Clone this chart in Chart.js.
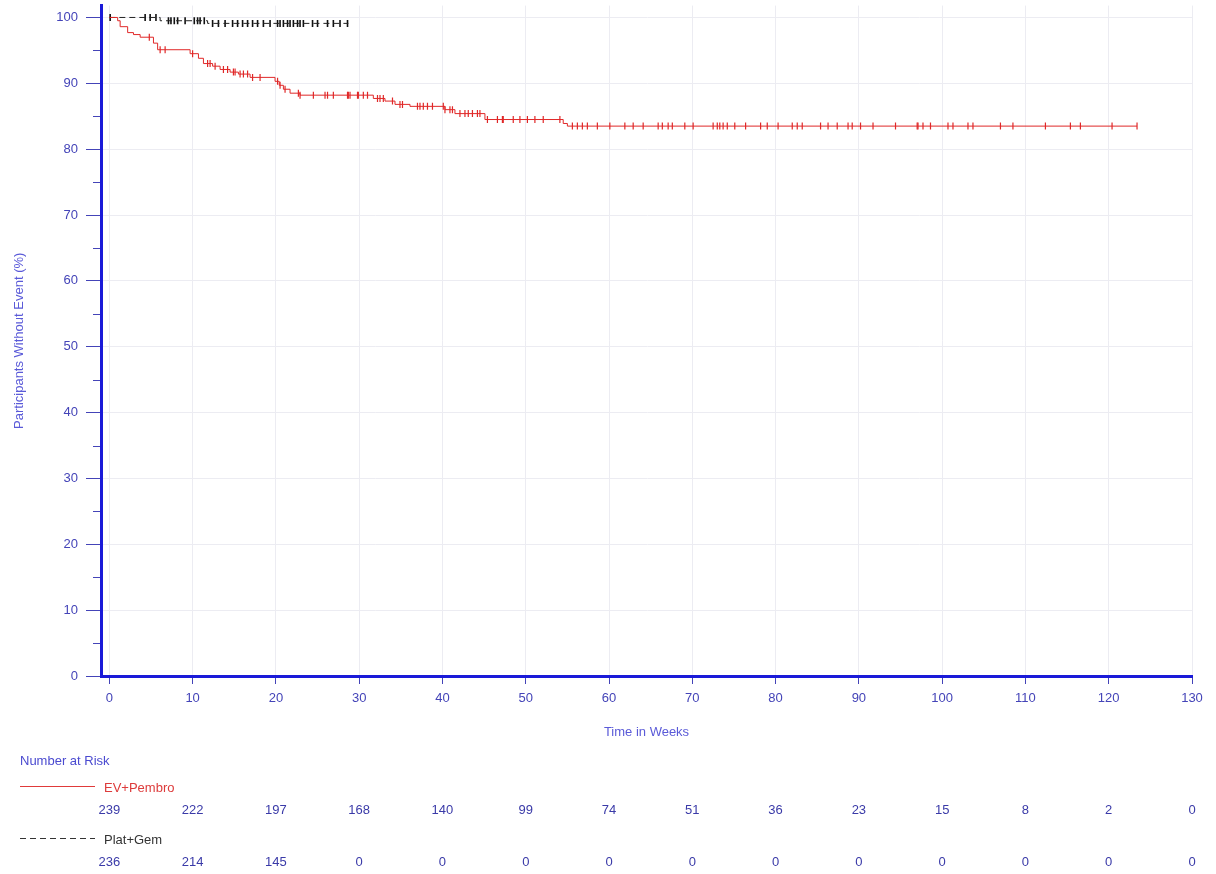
<!DOCTYPE html>
<html>
<head>
<meta charset="utf-8">
<script src="https://cdn.jsdelivr.net/npm/chart.js@4/dist/chart.umd.min.js"></script>
<style>
  html, body { margin: 0; padding: 0; background: #fff; }
  #wrap { width: 1216px; height: 874px; }
</style>
</head>
<body>
<div id="wrap"><canvas id="km"></canvas></div>
<script>
// step points: [time in weeks, % without event]
var evSteps = [
  [0, 100], [1.0, 99.5], [1.3, 98.6], [2.2, 97.7], [2.9, 97.4], [3.7, 97.0],
  [5.3, 96.1], [5.8, 95.1], [9.7, 94.5], [10.7, 93.8], [11.3, 93.0], [12.4, 92.6],
  [13.3, 92.1], [14.5, 91.7], [15.5, 91.4], [16.9, 90.9], [19.9, 90.3], [20.4, 89.7],
  [20.9, 89.1], [21.7, 88.5], [22.9, 88.2], [31.7, 87.7], [33.1, 87.3], [34.3, 86.8],
  [36.1, 86.5], [40.3, 86.0], [41.5, 85.4], [45.1, 84.5], [54.5, 83.9], [55.0, 83.5],
  [123.4, 83.5]
];
var pgSteps = [
  [0, 100], [6.1, 99.5], [11.8, 99.1], [28.7, 99.1]
];

// censored times (weeks)
var evCensored = [
  4.8, 6.1, 6.7, 10.0, 11.8, 12.1, 12.7, 13.7, 14.2, 14.9, 15.1, 15.7, 16.1, 16.6,
  17.2, 18.1, 20.2, 20.5, 21.1, 22.7, 22.9, 24.5, 25.9, 26.2, 26.9, 28.6, 28.7, 28.9,
  29.8, 29.9, 30.5, 31.0, 32.2, 32.5, 32.9, 34.0, 34.9, 35.2, 37.0, 37.3, 37.7, 38.2,
  38.8, 40.1, 40.3, 40.9, 41.2, 42.1, 42.7, 43.1, 43.6, 44.2, 44.5, 45.4, 46.6, 47.2,
  47.3, 48.5, 49.3, 50.2, 51.1, 52.1, 54.1, 55.6, 56.2, 56.8, 57.4, 58.6, 60.1, 61.9,
  62.9, 64.1, 65.9, 66.4, 67.1, 67.6, 69.1, 70.1, 72.5, 73.0, 73.3, 73.7, 74.2, 75.1,
  76.4, 78.2, 79.0, 80.3, 82.0, 82.6, 83.2, 85.4, 86.3, 87.4, 88.7, 89.2, 90.2, 91.7,
  94.4, 97.0, 97.1, 97.7, 98.6, 100.7, 101.3, 103.1, 103.7, 107.0, 108.5, 112.4, 115.4,
  116.6, 120.4, 123.4
];
var pgCensored = [
  0.1, 4.3, 4.9, 5.6, 7.1, 7.4, 7.8, 8.2, 9.1, 10.2, 10.6, 10.9, 11.4, 12.4, 13.1,
  13.9, 14.8, 15.4, 16.0, 16.6, 17.2, 17.8, 18.5, 19.3, 20.2, 20.5, 20.9, 21.4, 21.7,
  22.1, 22.6, 22.9, 23.3, 24.4, 25.0, 26.2, 26.9, 27.7, 28.6
];

// number at risk table
var riskTimes = [0, 10, 20, 30, 40, 50, 60, 70, 80, 90, 100, 110, 120, 130];
var riskEV = [239, 222, 197, 168, 140, 99, 74, 51, 36, 23, 15, 8, 2, 0];
var riskPG = [236, 214, 145, 0, 0, 0, 0, 0, 0, 0, 0, 0, 0, 0];

var xTicks = [0, 10, 20, 30, 40, 50, 60, 70, 80, 90, 100, 110, 120, 130];
var yTicks = [0, 10, 20, 30, 40, 50, 60, 70, 80, 90, 100];
var yMinorTicks = [5, 15, 25, 35, 45, 55, 65, 75, 85, 95];

var FONT = "'Liberation Sans', Arial, sans-serif";
var TICK_COL = '#4444b8';
var TITLE_COL = '#5a5ad8';

function survAt(steps, t) {
  var v = steps[0][1];
  for (var i = 0; i < steps.length; i++) {
    if (steps[i][0] <= t) v = steps[i][1];
  }
  return v;
}
function toPts(steps) {
  return steps.map(function (s) { return {x: s[0], y: s[1]}; });
}
function censorPts(steps, times) {
  return times.map(function (t) { return {x: t, y: survAt(steps, t)}; });
}

var extras = {
  id: 'extras',
  beforeDraw: function (chart) {
    var ctx = chart.ctx;
    ctx.save();
    ctx.fillStyle = '#fff';
    ctx.fillRect(0, 0, chart.width, chart.height);
    ctx.restore();
  },
  afterDraw: function (chart) {
    var ctx = chart.ctx;
    var xs = chart.scales.x, ys = chart.scales.y;
    var left = chart.chartArea.left;
    ctx.save();
    // minor y ticks
    ctx.strokeStyle = TICK_COL;
    ctx.lineWidth = 1;
    yMinorTicks.forEach(function (v) {
      var py = Math.round(ys.getPixelForValue(v)) + 0.5;
      ctx.beginPath();
      ctx.moveTo(left - 8, py);
      ctx.lineTo(left - 1, py);
      ctx.stroke();
    });

    // number at risk
    ctx.font = '13px ' + FONT;
    ctx.textBaseline = 'middle';
    ctx.textAlign = 'left';
    ctx.fillStyle = '#4a4ad0';
    ctx.fillText('Number at Risk', 20, 761);

    ctx.strokeStyle = '#e03a3a';
    ctx.beginPath();
    ctx.moveTo(20, 786.5); ctx.lineTo(95, 786.5);
    ctx.stroke();
    ctx.fillStyle = '#dd3b3b';
    ctx.fillText('EV+Pembro', 104, 788);

    ctx.strokeStyle = '#333';
    ctx.setLineDash([6, 4]);
    ctx.beginPath();
    ctx.moveTo(20, 838.5); ctx.lineTo(95, 838.5);
    ctx.stroke();
    ctx.setLineDash([]);
    ctx.fillStyle = '#333';
    ctx.fillText('Plat+Gem', 104, 840);

    ctx.textAlign = 'center';
    ctx.fillStyle = '#3a3aa8';
    riskTimes.forEach(function (t, i) {
      var px = xs.getPixelForValue(t);
      ctx.fillText(String(riskEV[i]), px, 810);
      ctx.fillText(String(riskPG[i]), px, 862);
    });
    ctx.restore();
  }
};

new Chart(document.getElementById('km'), {
  type: 'scatter',
  data: {
    datasets: [
      {
        label: 'EV+Pembro',
        data: toPts(evSteps),
        showLine: true,
        stepped: true,
        borderColor: '#e02828',
        borderWidth: 1,
        pointRadius: 0
      },
      {
        label: 'EV+Pembro censored',
        data: censorPts(evSteps, evCensored),
        showLine: false,
        pointStyle: 'line',
        rotation: 90,
        pointRadius: 3.5,
        borderColor: '#e02828',
        borderWidth: 1.2
      },
      {
        label: 'Plat+Gem',
        data: toPts(pgSteps),
        showLine: true,
        stepped: true,
        borderColor: '#222',
        borderWidth: 1,
        borderDash: [6, 4],
        pointRadius: 0
      },
      {
        label: 'Plat+Gem censored',
        data: censorPts(pgSteps, pgCensored),
        showLine: false,
        pointStyle: 'line',
        rotation: 90,
        pointRadius: 3.5,
        borderColor: '#111',
        borderWidth: 1.6
      }
    ]
  },
  options: {
    responsive: true,
    maintainAspectRatio: false,
    animation: false,
    events: [],
    layout: { padding: { left: 0, right: 24, top: 0, bottom: 128 } },
    plugins: {
      legend: { display: false },
      tooltip: { enabled: false }
    },
    scales: {
      x: {
        type: 'linear',
        min: -1,
        max: 130,
        afterBuildTicks: function (s) { s.ticks = xTicks.map(function (v) { return {value: v}; }); },
        afterFit: function (s) { s.height = 70; s.paddingLeft = 0; s.paddingRight = 0; },
        grid: { color: '#ececf2', tickColor: TICK_COL, tickLength: 8, lineWidth: 1 },
        border: { color: '#1a1ad8', width: 3 },
        ticks: { color: TICK_COL, font: { family: FONT, size: 13 }, padding: 7, maxRotation: 0 },
        title: {
          display: true,
          text: 'Time in Weeks',
          color: TITLE_COL,
          font: { family: FONT, size: 13 },
          padding: { top: 0, bottom: 6 }
        }
      },
      y: {
        type: 'linear',
        min: 0,
        max: 101.8,
        afterBuildTicks: function (s) { s.ticks = yTicks.map(function (v) { return {value: v}; }); },
        afterFit: function (s) { s.width = 101; s.paddingTop = 0; s.paddingBottom = 0; },
        grid: { color: '#ececf2', tickColor: TICK_COL, tickLength: 15, lineWidth: 1 },
        border: { color: '#1a1ad8', width: 3 },
        ticks: { color: TICK_COL, font: { family: FONT, size: 13 }, padding: 8 },
        title: {
          display: true,
          text: 'Participants Without Event (%)',
          color: TITLE_COL,
          font: { family: FONT, size: 13 },
          padding: { top: 12, bottom: 0 }
        }
      }
    }
  },
  plugins: [extras]
});
</script>
</body>
</html>
